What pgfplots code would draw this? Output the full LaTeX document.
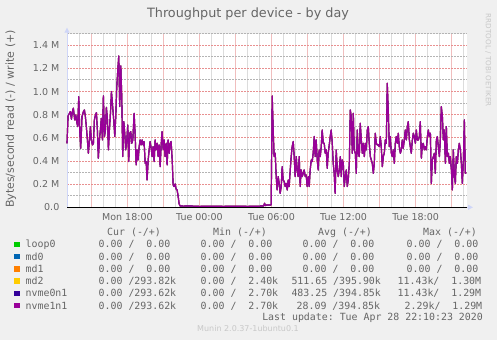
\documentclass[border=0pt]{standalone}
\usepackage{pgfplots}
\pgfplotsset{compat=1.18}
\usepackage{pgfplotstable}
\usepackage{fontspec}
\setmainfont{DejaVu Sans}
\setmonofont{DejaVu Sans Mono}
\usetikzlibrary{arrows.meta}
\definecolor{bgc}{HTML}{F0F0F0}
\definecolor{fontc}{HTML}{666666}
\definecolor{axisc}{HTML}{CFD6F8}
\definecolor{mgridc}{HTML}{E89090}
\definecolor{gridc}{HTML}{B4B4B4}
\definecolor{mgridx}{HTML}{F0BEBE}
\definecolor{gridx}{HTML}{DCDCDC}
\definecolor{wmc}{HTML}{C8C8C8}
\definecolor{cloop}{HTML}{00CC00}
\definecolor{cmdzero}{HTML}{0066B3}
\definecolor{cmdone}{HTML}{FF8000}
\definecolor{cmdtwo}{HTML}{FFCC00}
\definecolor{cnvzero}{HTML}{330099}
\definecolor{cnvone}{HTML}{990099}

% write throughput in MB/s, x = hours relative to Tue 00:00
\pgfplotstableread{
h w
-11.03 0.553
-10.94 0.789
-10.83 0.812
-10.75 0.827
-10.66 0.761
-10.58 0.827
-10.50 0.856
-10.39 0.755
-10.30 0.798
-10.22 0.740
-10.14 0.697
-10.05 0.956
-9.97 0.668
-9.89 0.510
-9.78 0.784
-9.66 0.827
-9.58 0.841
-9.50 0.784
-9.42 0.697
-9.33 0.582
-9.25 0.467
-9.16 0.582
-9.08 0.697
-9.00 0.582
-8.91 0.539
-8.83 0.553
-8.75 0.755
-8.66 0.798
-8.58 0.818
-8.50 0.668
-8.42 0.424
-8.33 0.582
-8.25 0.668
-8.17 0.769
-8.08 0.582
-8.00 0.962
-7.91 0.611
-7.83 0.668
-7.75 0.864
-7.66 0.755
-7.58 0.496
-7.50 0.668
-7.41 0.812
-7.33 1.000
-7.25 0.899
-7.14 0.755
-7.05 0.611
-6.97 0.784
-6.89 1.029
-6.80 1.187
-6.72 1.308
-6.64 0.870
-6.55 1.222
-6.47 0.956
-6.39 0.438
-6.30 0.740
-6.22 0.640
-6.14 0.496
-6.05 0.582
-5.97 0.712
-5.89 0.395
-5.80 0.640
-5.72 0.654
-5.64 0.553
-5.55 0.582
-5.44 0.812
-5.36 0.640
-5.27 0.366
-5.19 0.496
-5.11 0.409
-5.02 0.524
-4.94 0.582
-4.86 0.539
-4.77 0.582
-4.69 0.539
-4.61 0.568
-4.52 0.380
-4.44 0.395
-4.36 0.236
-4.27 0.409
-4.19 0.496
-4.11 0.568
-4.02 0.510
-3.94 0.438
-3.86 0.524
-3.77 0.395
-3.69 0.582
-3.61 0.496
-3.52 0.553
-3.44 0.438
-3.36 0.539
-3.27 0.351
-3.19 0.539
-3.11 0.654
-3.02 0.496
-2.94 0.582
-2.86 0.438
-2.77 0.553
-2.69 0.366
-2.61 0.582
-2.52 0.467
-2.44 0.553
-2.36 0.568
-2.27 0.409
-2.19 0.193
-2.11 0.179
-2.02 0.202
-1.94 0.156
-1.86 0.150
-1.77 0.092
-1.69 0.029
-1.61 0.012
-1.33 0.010
-0.90 0.012
-0.50 0.010
0.00 0.008
1.00 0.010
2.00 0.008
3.00 0.010
4.00 0.008
5.00 0.010
5.35 0.012
5.42 0.035
5.50 0.014
5.60 0.020
5.97 0.020
6.06 0.962
6.14 0.668
6.22 0.438
6.31 0.467
6.39 0.265
6.47 0.150
6.56 0.265
6.64 0.207
6.72 0.121
6.81 0.179
6.89 0.351
6.97 0.236
7.06 0.222
7.14 0.179
7.22 0.207
7.31 0.150
7.39 0.236
7.47 0.179
7.56 0.323
7.64 0.438
7.72 0.524
7.81 0.568
7.89 0.438
7.97 0.265
8.06 0.438
8.14 0.323
8.22 0.265
8.31 0.438
8.39 0.179
8.47 0.323
8.56 0.265
8.64 0.294
8.72 0.323
8.81 0.265
8.89 0.279
8.97 0.179
9.06 0.265
9.14 0.179
9.22 0.323
9.31 0.409
9.39 0.395
9.47 0.467
9.56 0.611
9.64 0.438
9.72 0.582
9.81 0.409
9.89 0.323
9.97 0.496
10.06 0.438
10.14 0.524
10.22 0.668
10.31 0.553
10.39 0.553
10.47 0.467
10.56 0.496
10.64 0.337
10.72 0.467
10.81 0.539
10.89 0.611
10.97 0.668
11.06 0.553
11.14 0.380
11.22 0.294
11.30 0.121
11.39 0.496
11.48 0.323
11.56 0.265
11.64 0.323
11.73 0.438
11.81 0.265
11.89 0.409
11.98 0.380
12.06 0.179
12.14 0.265
12.23 0.323
12.31 0.179
12.39 0.236
12.48 0.380
12.56 0.841
12.64 0.784
12.73 0.467
12.81 0.812
12.89 0.496
12.98 0.467
13.06 0.294
13.14 0.668
13.23 0.467
13.31 0.438
13.39 0.726
13.48 0.582
13.56 0.467
13.64 0.553
13.73 0.438
13.81 0.553
13.89 0.496
13.98 0.668
14.06 0.697
14.14 0.553
14.23 0.438
14.31 0.409
14.39 0.380
14.48 0.294
14.56 0.380
14.64 0.640
14.73 0.553
14.81 0.539
14.89 0.539
14.98 0.524
15.06 0.611
15.14 0.524
15.23 0.351
15.31 0.438
15.39 0.467
15.48 0.582
15.56 0.553
15.64 1.072
15.73 0.812
15.81 0.524
15.89 0.611
15.98 0.467
16.06 0.438
16.14 0.496
16.23 0.380
16.31 0.553
16.39 0.611
16.48 0.553
16.56 0.640
16.64 0.524
16.73 0.467
16.81 0.496
16.89 0.582
16.97 0.510
17.06 0.582
17.14 0.668
17.23 0.582
17.31 0.697
17.39 0.740
17.48 0.582
17.56 0.524
17.64 0.467
17.73 0.582
17.81 0.640
17.89 0.611
17.98 0.553
18.06 0.668
18.14 0.582
18.23 0.582
18.31 0.611
18.39 0.740
18.48 0.424
18.56 0.539
18.64 0.553
18.73 0.496
18.81 0.524
18.89 0.496
18.98 0.611
19.06 0.668
19.14 0.611
19.23 0.640
19.31 0.207
19.39 0.409
19.48 0.438
19.56 0.467
19.64 0.294
19.73 0.582
19.81 0.611
19.89 0.524
19.98 0.438
20.06 0.582
20.14 0.870
20.23 0.784
20.31 0.582
20.39 0.668
20.48 0.380
20.56 0.697
20.64 0.438
20.73 0.467
20.81 0.380
20.89 0.438
20.98 0.323
21.06 0.150
21.14 0.496
21.23 0.265
21.31 0.207
21.39 0.438
21.48 0.380
21.56 0.496
21.64 0.553
21.73 0.496
21.81 0.380
21.89 0.207
21.98 0.409
22.06 0.755
22.14 0.294
22.22 0.300
}\writedata

\pgfplotstableread{
h w
-11.03 0
22.28 0
}\zerodata

\tikzset{lbl/.style={inner sep=0pt, text=fontc}}
\newcommand{\legf}{\fontsize{9.9}{12}\selectfont\ttfamily}

\begin{document}
\begin{tikzpicture}[x=1pt,y=1pt]
\fill[bgc] (0,0) rectangle (497,340);
\path[use as bounding box] (0,0) rectangle (497,340);
\begin{axis}[
  at={(67pt,132.7pt)}, anchor=south west,
  scale only axis, width=400pt, height=173.6pt,
  xmin=-11.03, xmax=22.28, ymin=0, ymax=1.5,
  axis background/.style={fill=white},
  axis line style={draw=none},
  major tick length=0pt, minor tick length=0pt,
  xtick={-9,-6,-3,0,3,6,9,12,15,18,21},
  xticklabels={,Mon 18:00,,Tue 00:00,,Tue 06:00,,Tue 12:00,,Tue 18:00,},
  minor xtick={-11,-10,...,22},
  ytick={0,0.2,0.4,0.6,0.8,1.0,1.2,1.4},
  yticklabels={0.0,0.2 M,0.4 M,0.6 M,0.8 M,1.0 M,1.2 M,1.4 M},
  minor ytick={0.1,0.3,0.5,0.7,0.9,1.1,1.3,1.5},
  xtick pos=left, ytick pos=left,
  grid=both,
  major grid style={draw=mgridc, line width=1pt, dash pattern=on 1.5pt off 1.5pt},
  minor grid style={draw=gridc, line width=1pt, dash pattern=on 1.5pt off 1.5pt},
  major x grid style={draw=mgridx, line width=0.8pt, solid},
  minor x grid style={draw=gridx, line width=0.8pt, solid},
  ticklabel style={font=\fontsize{9.5}{11}\selectfont, text=fontc},
  yticklabel style={anchor=east, inner sep=0pt, xshift=-7.5pt},
  xticklabel style={anchor=north, inner sep=0pt, yshift=-6pt},
  clip=false,
]
\draw[axisc, line width=0.9pt, -{Triangle[length=5pt,width=5pt]}] (rel axis cs:0,0) -- ([yshift=6pt]rel axis cs:0,1);
\draw[axisc, line width=0.9pt, -{Triangle[length=5pt,width=5pt]}] (rel axis cs:0,0) -- ([xshift=6pt]rel axis cs:1,0);
\addplot[cloop, line width=1pt] table[x=h,y=w]{\zerodata};
\addplot[cmdzero, line width=1pt] table[x=h,y=w]{\zerodata};
\addplot[cmdone, line width=1pt] table[x=h,y=w]{\zerodata};
\addplot[cmdtwo, line width=1.2pt, line join=round] table[x=h,y=w]{\writedata};
\addplot[cnvzero, line width=1.2pt, line join=round] table[x=h,y=w]{\writedata};
\addplot[cnvone, line width=1.2pt, line join=round] table[x=h,y=w]{\writedata};
\addplot[black, line width=0.9pt] table[x=h,y=w]{\zerodata};
\end{axis}

% title and labels
\node[lbl, anchor=base, font=\fontsize{12.8}{15}\selectfont] at (248,322.3) {Throughput per device - by day};
\node[lbl, rotate=90, font=\fontsize{11}{13}\selectfont] at (10.8,221) {Bytes/second read (-) / write (+)};
\node[inner sep=0pt, text=wmc, rotate=-90, font=\fontsize{7.2}{9}\selectfont] at (488.3,279.7) {RRDTOOL / TOBI OETIKER};
\node[inner sep=0pt, text=wmc, anchor=base, font=\fontsize{8}{10}\selectfont] at (248,8.5) {Munin 2.0.37-1ubuntu0.1};

% legend header
\node[lbl, anchor=base west, font=\legf] at (107,104.7) {Cur (-/+)};
\node[lbl, anchor=base west, font=\legf] at (213,104.7) {Min (-/+)};
\node[lbl, anchor=base west, font=\legf] at (318,104.7) {Avg (-/+)};
\node[lbl, anchor=base west, font=\legf] at (423,104.7) {Max (-/+)};

% swatches
\fill[cloop]   (14,93.0) rectangle ++(5.5,5.5);
\fill[cmdzero] (14,80.75) rectangle ++(5.5,5.5);
\fill[cmdone]  (14,68.5) rectangle ++(5.5,5.5);
\fill[cmdtwo]  (14,56.25) rectangle ++(5.5,5.5);
\fill[cnvzero] (14,44.0) rectangle ++(5.5,5.5);
\fill[cnvone]  (14,31.75) rectangle ++(5.5,5.5);

% names
\node[lbl, anchor=base west, font=\legf] at (25.5,92.25) {loop0};
\node[lbl, anchor=base west, font=\legf] at (25.5,80.0) {md0};
\node[lbl, anchor=base west, font=\legf] at (25.5,67.75) {md1};
\node[lbl, anchor=base west, font=\legf] at (25.5,55.5) {md2};
\node[lbl, anchor=base west, font=\legf] at (25.5,43.25) {nvme0n1};
\node[lbl, anchor=base west, font=\legf] at (25.5,31.0) {nvme1n1};

% Cur
\node[lbl, anchor=base west, font=\legf] at (98.5,92.25) {0.00 /~~0.00};
\node[lbl, anchor=base west, font=\legf] at (98.5,80.0) {0.00 /~~0.00};
\node[lbl, anchor=base west, font=\legf] at (98.5,67.75) {0.00 /~~0.00};
\node[lbl, anchor=base west, font=\legf] at (98.5,55.5) {0.00 /293.82k};
\node[lbl, anchor=base west, font=\legf] at (98.5,43.25) {0.00 /293.62k};
\node[lbl, anchor=base west, font=\legf] at (98.5,31.0) {0.00 /293.62k};
% Min
\node[lbl, anchor=base west, font=\legf] at (200.5,92.25) {0.00 /~~0.00};
\node[lbl, anchor=base west, font=\legf] at (200.5,80.0) {0.00 /~~0.00};
\node[lbl, anchor=base west, font=\legf] at (200.5,67.75) {0.00 /~~0.00};
\node[lbl, anchor=base west, font=\legf] at (200.5,55.5) {0.00 /~~2.40k};
\node[lbl, anchor=base west, font=\legf] at (200.5,43.25) {0.00 /~~2.70k};
\node[lbl, anchor=base west, font=\legf] at (200.5,31.0) {0.00 /~~2.70k};
% Avg
\node[lbl, anchor=base west, font=\legf] at (302.5,92.25) {0.00 /~~0.00};
\node[lbl, anchor=base west, font=\legf] at (302.5,80.0) {0.00 /~~0.00};
\node[lbl, anchor=base west, font=\legf] at (302.5,67.75) {0.00 /~~0.00};
\node[lbl, anchor=base west, font=\legf] at (291.3,55.5) {511.65 /395.90k};
\node[lbl, anchor=base west, font=\legf] at (291.3,43.25) {483.25 /394.85k};
\node[lbl, anchor=base west, font=\legf] at (296.5,31.0) {28.09 /394.85k};
% Max
\node[lbl, anchor=base west, font=\legf] at (406.5,92.25) {0.00 /~~0.00};
\node[lbl, anchor=base west, font=\legf] at (406.5,80.0) {0.00 /~~0.00};
\node[lbl, anchor=base west, font=\legf] at (406.5,67.75) {0.00 /~~0.00};
\node[lbl, anchor=base west, font=\legf] at (397.5,55.5) {11.43k/~~1.30M};
\node[lbl, anchor=base west, font=\legf] at (397.5,43.25) {11.43k/~~1.29M};
\node[lbl, anchor=base west, font=\legf] at (404.5,31.0) {2.29k/~~1.29M};

\node[lbl, anchor=base east, font=\legf] at (483,20) {Last update: Tue Apr 28 22:10:23 2020};
\end{tikzpicture}
\end{document}
